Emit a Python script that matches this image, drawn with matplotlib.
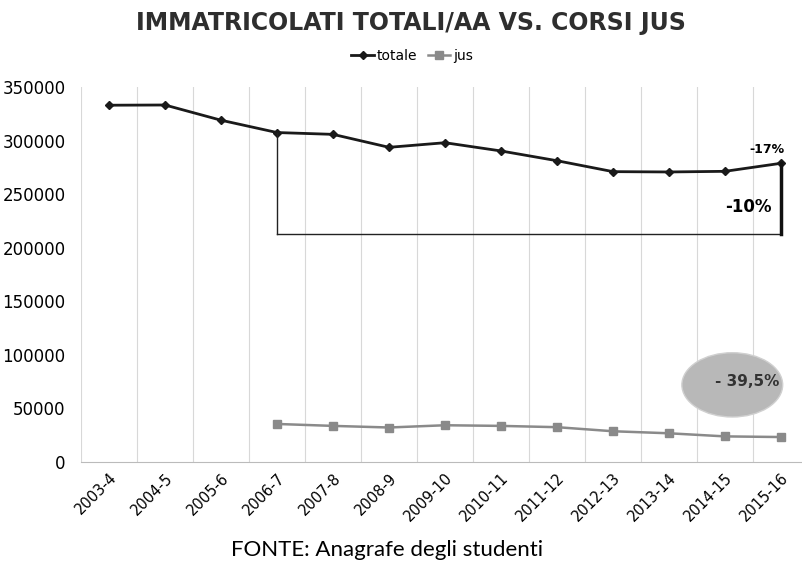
import matplotlib.pyplot as plt
from matplotlib.patches import Ellipse

# Data
anni = ["2003-4", "2004-5", "2005-6", "2006-7", "2007-8", "2008-9", "2009-10",
        "2010-11", "2011-12", "2012-13", "2013-14", "2014-15", "2015-16"]
totale = [333000, 333200, 319000, 307500, 305800, 293700, 298000,
          290300, 281200, 271000, 270700, 271300, 278800]
jus_anni = anni[3:]
jus = [35500, 33700, 32200, 34300, 33700, 32500, 28700, 26800, 23900, 23300]
base_bracket = 212500

x = list(range(len(anni)))
x_jus = x[3:]

fig = plt.figure(figsize=(8.02, 5.69), dpi=100)
ax = fig.add_axes([81 / 802, 107 / 569, 728 / 802, 375 / 569])

ax.plot(x, totale, color="#1a1a1a", lw=2, marker="D", ms=4, label="totale")
ax.plot(x_jus, jus, color="#8a8a8a", lw=1.8, marker="s", ms=6, label="jus")

# bracket from 2006-7 to 2015-16
ax.plot([3, 3], [totale[3], base_bracket], color="#222222", lw=1)
ax.plot([3, 12], [base_bracket, base_bracket], color="#222222", lw=1)
ax.plot([12, 12], [base_bracket, totale[12]], color="#111111", lw=2.5)
ax.text(11.75, 286000, "-17%", fontsize=9, fontweight="bold", ha="center", va="bottom")
ax.text(11.42, 238000, "-10%", fontsize=12, fontweight="bold", ha="center", va="center")

ell = Ellipse((11.13, 72000), 1.8, 60000, facecolor="#b8b8b8", edgecolor="#d0d0d0", lw=1)
ax.add_patch(ell)
ax.text(11.4, 75000, "- 39,5%", fontsize=11, fontweight="bold", color="#333333",
        ha="center", va="center")

ax.set_xlim(-0.5, 12.5)
ax.set_ylim(0, 350000)
ax.set_yticks(range(0, 350001, 50000))
ax.set_xticks(x)
ax.set_xticklabels(anni, rotation=45, ha="right", rotation_mode="anchor", fontsize=10.5)
ax.tick_params(axis="y", labelsize=12, length=0, pad=11)
ax.tick_params(axis="x", length=0, pad=6)
for xb in [i - 0.5 for i in range(len(anni) + 1)]:
    ax.axvline(xb, color="#d8d8d8", lw=0.8, zorder=0)
for s in ["top", "right", "left"]:
    ax.spines[s].set_visible(False)
ax.spines["bottom"].set_color("#bbbbbb")

fig.text(0.513, 0.96, "IMMATRICOLATI TOTALI/AA VS. CORSI JUS", ha="center", va="center",
         fontsize=17, fontweight="bold", color="#2e2e2e")
ax.legend(loc="upper center", bbox_to_anchor=(0.455, 1.135), ncol=2, frameon=False,
          fontsize=10, handlelength=1.6, handletextpad=0.2, columnspacing=0.8)
fig.text(0.482, 0.033, "FONTE: Anagrafe degli studenti", ha="center", va="center",
         fontsize=16, family="Lato")

fig.savefig("out.png", dpi=100)
